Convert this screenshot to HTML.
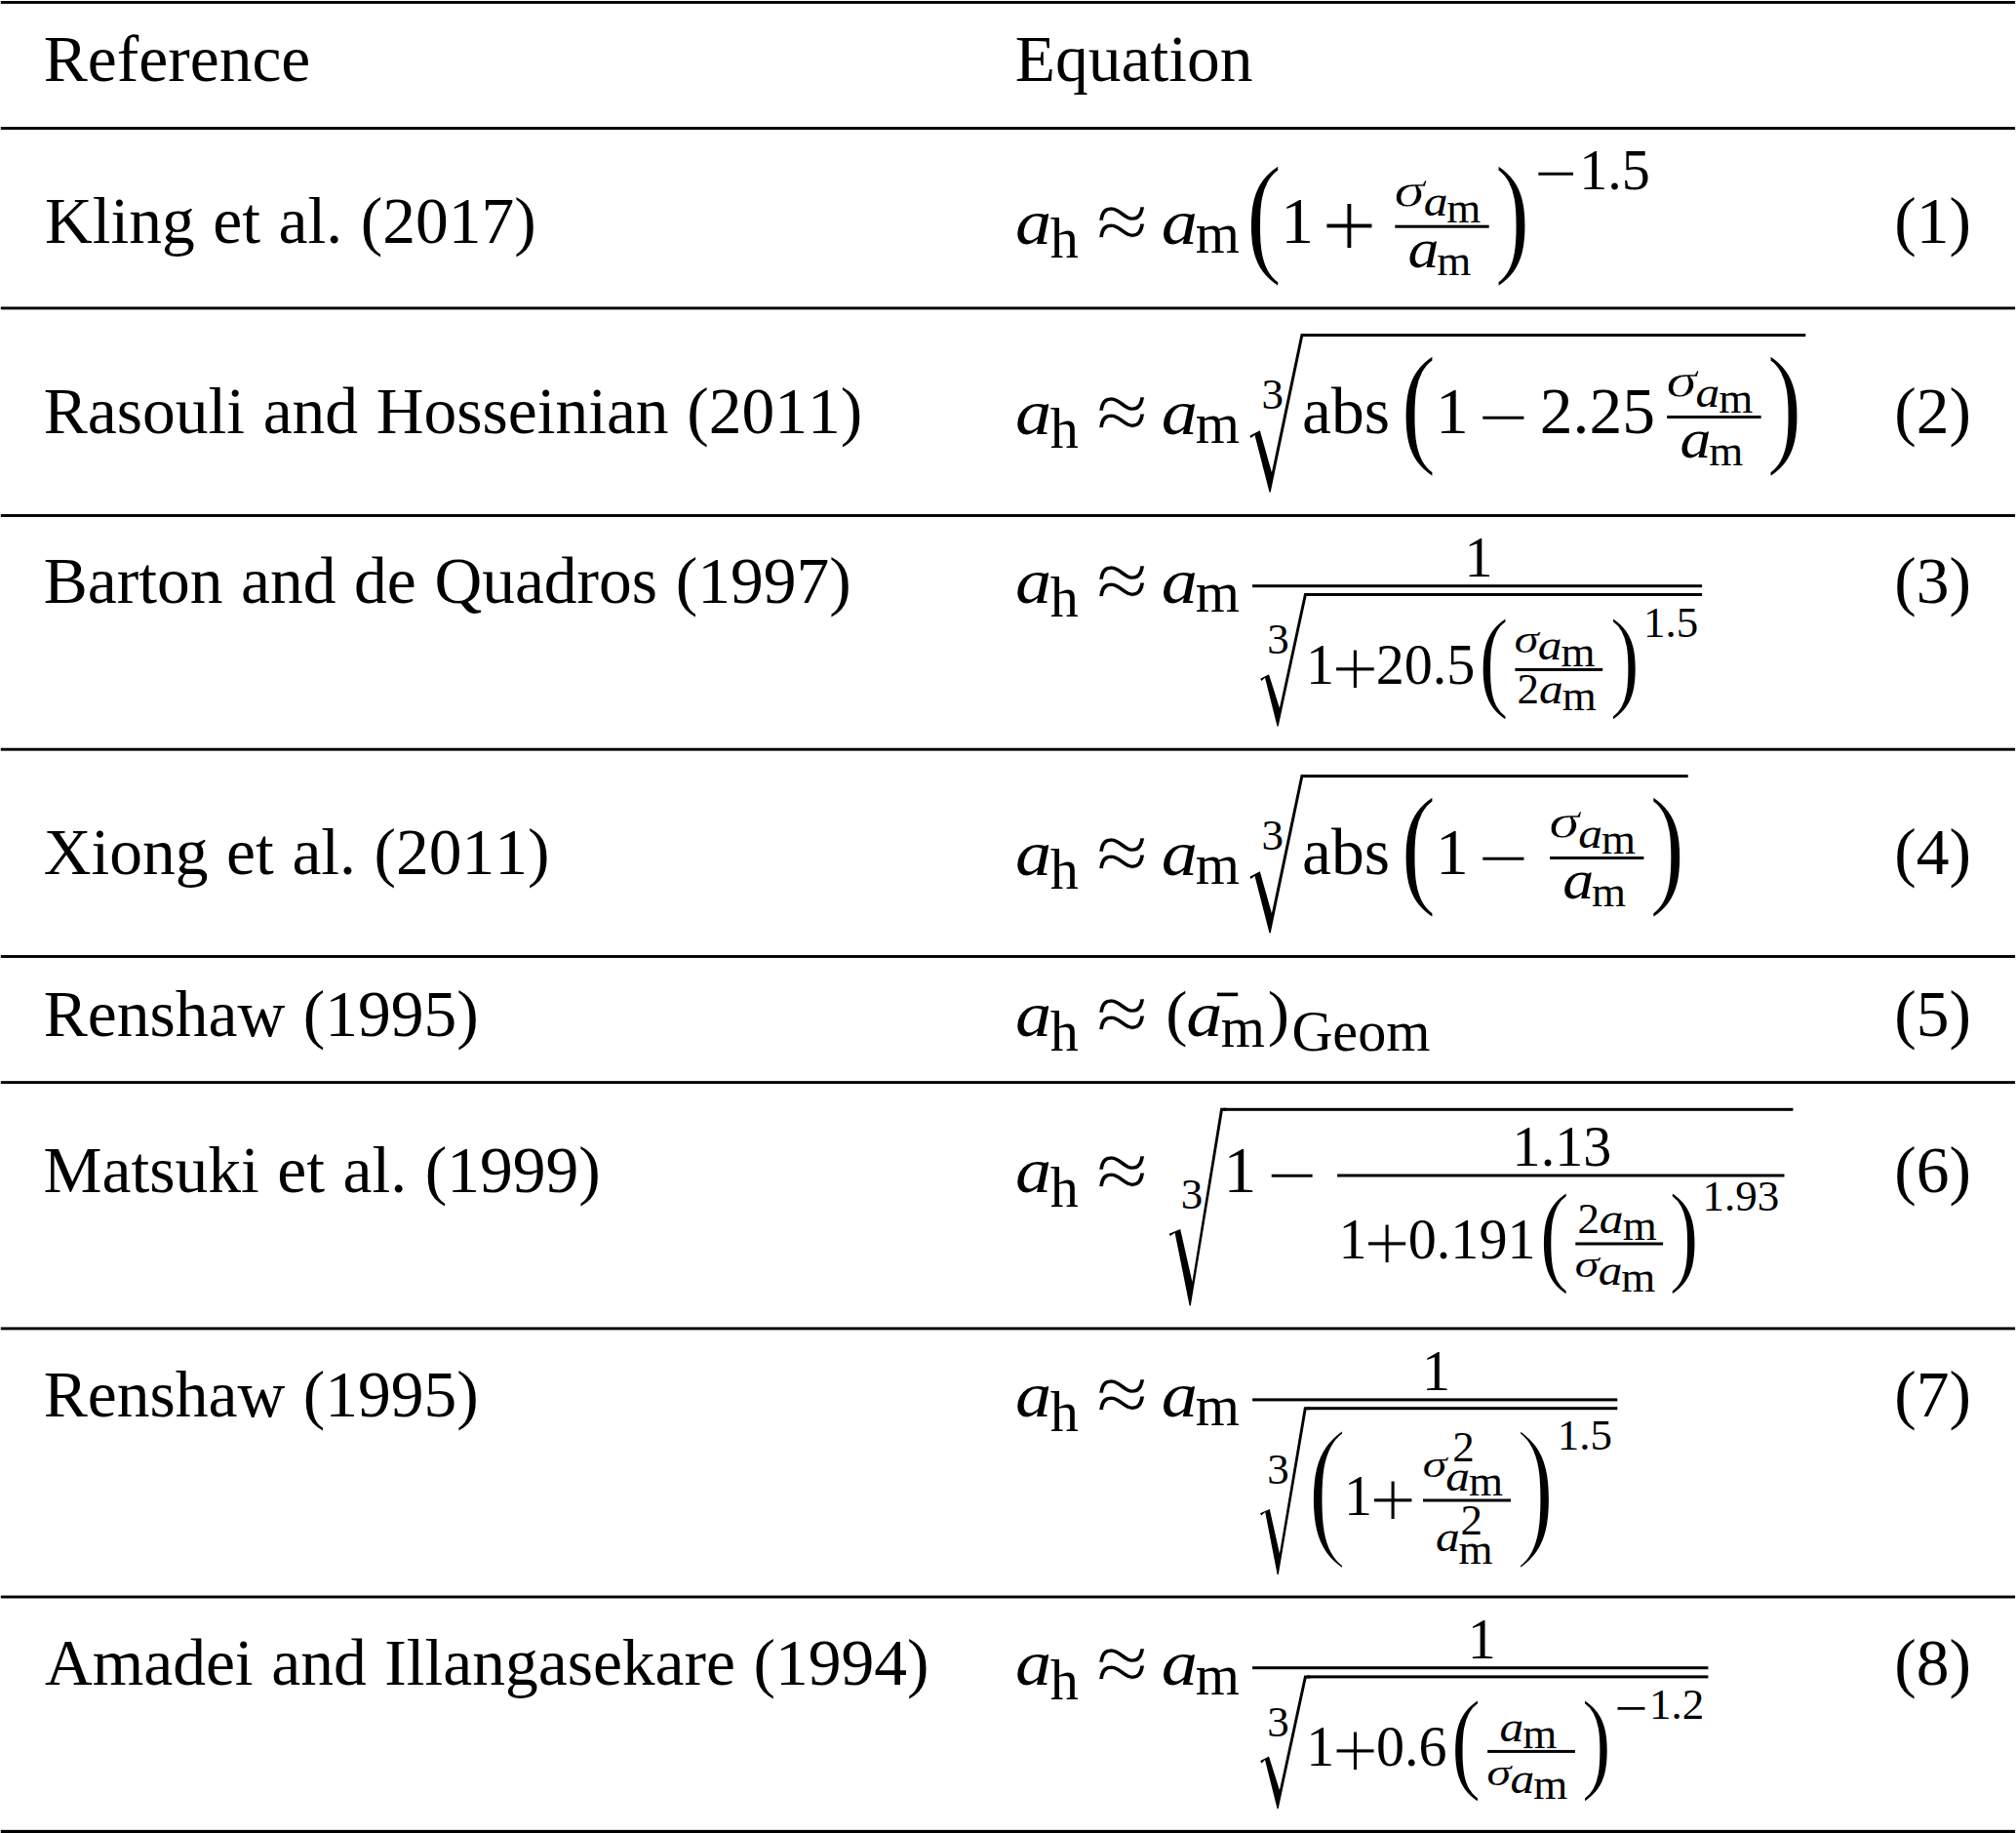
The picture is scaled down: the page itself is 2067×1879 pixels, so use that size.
<!DOCTYPE html>
<html lang="en"><head><meta charset="utf-8"><title>Table</title>
<style>
html,body{margin:0;padding:0;background:#fff;}
body{width:2067px;height:1879px;overflow:hidden;}
svg{display:block;font-family:"Liberation Serif","Times New Roman",Times,serif;fill:#000;}
text{white-space:pre;font-kerning:none;font-variant-ligatures:none;}
.ws{word-spacing:1.7px;}
</style></head><body>
<svg width="2067" height="1879" viewBox="0 0 2067 1879">
<rect x="0" y="0" width="2067" height="1879" fill="#fff"/>
<rect x="0.80" y="1.00" width="2065.30" height="2.90"/>
<rect x="0.80" y="130.05" width="2065.30" height="2.90"/>
<rect x="0.80" y="314.45" width="2065.30" height="2.90"/>
<rect x="0.80" y="527.05" width="2065.30" height="2.90"/>
<rect x="0.80" y="766.75" width="2065.30" height="2.90"/>
<rect x="0.80" y="979.05" width="2065.30" height="2.90"/>
<rect x="0.80" y="1108.15" width="2065.30" height="2.90"/>
<rect x="0.80" y="1360.45" width="2065.30" height="2.90"/>
<rect x="0.80" y="1635.55" width="2065.30" height="2.90"/>
<rect x="0.80" y="1875.85" width="2065.30" height="3.65"/>
<text x="44.80" y="82.90" font-size="67.50" class="ws">Reference</text>
<text x="45.95" y="249.10" font-size="67.50" class="ws">Kling et al. (2017)</text>
<text x="44.80" y="444.40" font-size="67.50" class="ws">Rasouli and Hosseinian (2011)</text>
<text x="44.80" y="617.60" font-size="67.50" class="ws">Barton and de Quadros (1997)</text>
<text x="44.79" y="896.40" font-size="67.50" class="ws">Xiong et al. (2011)</text>
<text x="44.80" y="1061.80" font-size="67.50" class="ws">Renshaw (1995)</text>
<text x="44.47" y="1221.90" font-size="67.50" class="ws">Matsuki et al. (1999)</text>
<text x="44.80" y="1451.80" font-size="67.50" class="ws">Renshaw (1995)</text>
<text x="45.95" y="1726.90" font-size="67.50" class="ws">Amadei and Illangasekare (1994)</text>
<text x="1040.86" y="82.90" font-size="67.50">Equation</text>
<text x="1942.23" y="249.10" font-size="67.50">(1)</text>
<text x="1942.23" y="444.40" font-size="67.50">(2)</text>
<text x="1942.23" y="617.60" font-size="67.50">(3)</text>
<text x="1942.23" y="896.40" font-size="67.50">(4)</text>
<text x="1942.23" y="1061.80" font-size="67.50">(5)</text>
<text x="1942.23" y="1221.90" font-size="67.50">(6)</text>
<text x="1942.23" y="1451.80" font-size="67.50">(7)</text>
<text x="1942.23" y="1726.90" font-size="67.50">(8)</text>
<text transform="matrix(0.7421 0 0 0.6508 1040.89 249.53)" font-size="100" font-style="italic">a</text>
<text x="1076.83" y="263.90" font-size="58.10">h</text>
<text transform="matrix(0.9703 0 0 0.8556 1124.05 255.72)" font-size="100" stroke="#fff" stroke-width="0.988">≈</text>
<text transform="matrix(0.7421 0 0 0.6508 1190.69 249.53)" font-size="100" font-style="italic">a</text>
<text x="1225.78" y="258.70" font-size="58.10">m</text>
<text transform="matrix(1.1213 0 0 1.3852 1277.27 264.91)" font-size="100" stroke="#fff" stroke-width="1.284">(</text>
<text x="1313.37" y="249.10" font-size="67.50">1</text>
<text transform="matrix(1.0165 0 0 0.9939 1354.79 265.20)" font-size="100" stroke="#fff" stroke-width="1.094">+</text>
<rect x="1430.30" y="230.70" width="96.40" height="3.00"/>
<text transform="matrix(0.6342 0 0 0.5025 1429.51 211.76)" font-size="100" font-style="italic" stroke="#fff" stroke-width="1.063">σ</text>
<text transform="matrix(0.4947 0 0 0.4339 1459.63 221.34)" font-size="100" font-style="italic">a</text>
<text x="1483.26" y="227.95" font-size="45.00">m</text>
<text transform="matrix(0.6387 0 0 0.5602 1443.60 273.82)" font-size="100" font-style="italic">a</text>
<text x="1473.36" y="281.85" font-size="45.00">m</text>
<text transform="matrix(1.1058 0 0 1.3852 1532.34 264.91)" font-size="100" stroke="#fff" stroke-width="1.293">)</text>
<text transform="matrix(0.7672 0 0 0.6024 1573.58 198.10)" font-size="100">−</text>
<text x="1619.29" y="193.60" font-size="58.10">1.5</text>
<text transform="matrix(0.7421 0 0 0.6508 1040.89 444.83)" font-size="100" font-style="italic">a</text>
<text x="1076.83" y="459.20" font-size="58.10">h</text>
<text transform="matrix(0.9703 0 0 0.8556 1124.05 451.02)" font-size="100" stroke="#fff" stroke-width="0.988">≈</text>
<text transform="matrix(0.7421 0 0 0.6508 1190.69 444.83)" font-size="100" font-style="italic">a</text>
<text x="1225.78" y="454.00" font-size="58.10">m</text>
<polygon points="1333.70,342.10 1339.70,342.10 1339.70,345.10 1336.07,345.10 1302.70,504.50 1301.50,504.50 1286.50,446.00 1282.60,449.00 1281.30,446.70 1291.80,441.30 1303.90,484.30"/>
<rect x="1336.70" y="342.10" width="514.60" height="3.00"/>
<text x="1293.55" y="418.60" font-size="45.00">3</text>
<text x="1334.93" y="444.40" font-size="67.50">abs</text>
<text transform="matrix(1.1019 0 0 1.3852 1435.96 460.21)" font-size="100" stroke="#fff" stroke-width="1.295">(</text>
<text x="1472.07" y="444.40" font-size="67.50">1</text>
<text transform="matrix(0.9069 0 0 0.6024 1515.68 447.50)" font-size="100">−</text>
<text x="1578.83" y="444.40" font-size="67.50">2.25</text>
<rect x="1709.20" y="426.00" width="96.40" height="3.00"/>
<text transform="matrix(0.6342 0 0 0.5025 1708.41 407.06)" font-size="100" font-style="italic" stroke="#fff" stroke-width="1.063">σ</text>
<text transform="matrix(0.4947 0 0 0.4339 1738.53 416.64)" font-size="100" font-style="italic">a</text>
<text x="1762.16" y="423.25" font-size="45.00">m</text>
<text transform="matrix(0.6387 0 0 0.5602 1722.50 469.12)" font-size="100" font-style="italic">a</text>
<text x="1752.26" y="477.15" font-size="45.00">m</text>
<text transform="matrix(1.1058 0 0 1.3852 1811.24 460.21)" font-size="100" stroke="#fff" stroke-width="1.293">)</text>
<text transform="matrix(0.7421 0 0 0.6508 1040.89 618.03)" font-size="100" font-style="italic">a</text>
<text x="1076.83" y="632.40" font-size="58.10">h</text>
<text transform="matrix(0.9703 0 0 0.8556 1124.05 624.22)" font-size="100" stroke="#fff" stroke-width="0.988">≈</text>
<text transform="matrix(0.7421 0 0 0.6508 1190.69 618.03)" font-size="100" font-style="italic">a</text>
<text x="1225.78" y="627.20" font-size="58.10">m</text>
<rect x="1284.10" y="599.20" width="461.00" height="3.00"/>
<text x="1501.39" y="590.60" font-size="58.10">1</text>
<polygon points="1337.20,608.00 1343.20,608.00 1343.20,611.00 1339.55,611.00 1310.70,744.50 1309.50,744.50 1297.00,694.70 1293.50,698.00 1292.20,695.70 1301.00,691.20 1311.90,725.70"/>
<rect x="1340.20" y="608.00" width="404.90" height="3.00"/>
<text x="1299.25" y="670.30" font-size="45.00">3</text>
<text x="1338.99" y="700.90" font-size="58.10">1</text>
<text transform="matrix(0.8553 0 0 0.8394 1365.29 714.27)" font-size="100" stroke="#fff" stroke-width="1.298">+</text>
<text x="1410.75" y="700.90" font-size="58.10">20.5</text>
<text transform="matrix(0.9461 0 0 1.1723 1515.74 714.04)" font-size="100" stroke="#fff" stroke-width="1.519">(</text>
<rect x="1553.40" y="684.90" width="89.80" height="3.00"/>
<text transform="matrix(0.9422 0 0 1.1723 1650.16 714.04)" font-size="100" stroke="#fff" stroke-width="1.522">)</text>
<text transform="matrix(0.5110 0 0 0.3902 1552.58 668.92)" font-size="100" font-style="italic" stroke="#fff" stroke-width="0.448">σ</text>
<text transform="matrix(0.4947 0 0 0.4339 1576.83 675.89)" font-size="100" font-style="italic">a</text>
<text x="1600.46" y="682.60" font-size="45.00">m</text>
<text x="1555.52" y="720.80" font-size="45.00">2</text>
<text transform="matrix(0.4947 0 0 0.4339 1577.93 721.39)" font-size="100" font-style="italic">a</text>
<text x="1601.86" y="727.80" font-size="45.00">m</text>
<text x="1685.04" y="652.70" font-size="45.00">1.5</text>
<text transform="matrix(0.7421 0 0 0.6508 1040.89 896.83)" font-size="100" font-style="italic">a</text>
<text x="1076.83" y="911.20" font-size="58.10">h</text>
<text transform="matrix(0.9703 0 0 0.8556 1124.05 903.02)" font-size="100" stroke="#fff" stroke-width="0.988">≈</text>
<text transform="matrix(0.7421 0 0 0.6508 1190.69 896.83)" font-size="100" font-style="italic">a</text>
<text x="1225.78" y="906.00" font-size="58.10">m</text>
<polygon points="1333.70,794.10 1339.70,794.10 1339.70,797.10 1336.07,797.10 1302.70,956.50 1301.50,956.50 1286.50,898.00 1282.60,901.00 1281.30,898.70 1291.80,893.30 1303.90,936.30"/>
<rect x="1336.70" y="794.10" width="394.00" height="3.00"/>
<text x="1293.55" y="870.60" font-size="45.00">3</text>
<text x="1334.93" y="896.40" font-size="67.50">abs</text>
<text transform="matrix(1.1019 0 0 1.3852 1435.96 912.21)" font-size="100" stroke="#fff" stroke-width="1.295">(</text>
<text x="1472.07" y="896.40" font-size="67.50">1</text>
<text transform="matrix(0.9069 0 0 0.6024 1515.68 899.50)" font-size="100">−</text>
<rect x="1589.00" y="878.00" width="96.40" height="3.00"/>
<text transform="matrix(0.6342 0 0 0.5025 1588.21 859.06)" font-size="100" font-style="italic" stroke="#fff" stroke-width="1.063">σ</text>
<text transform="matrix(0.4947 0 0 0.4339 1618.33 868.64)" font-size="100" font-style="italic">a</text>
<text x="1641.96" y="875.25" font-size="45.00">m</text>
<text transform="matrix(0.6387 0 0 0.5602 1602.30 921.12)" font-size="100" font-style="italic">a</text>
<text x="1632.06" y="929.15" font-size="45.00">m</text>
<text transform="matrix(1.1058 0 0 1.3852 1691.04 912.21)" font-size="100" stroke="#fff" stroke-width="1.293">)</text>
<text transform="matrix(0.7421 0 0 0.6508 1040.89 1062.23)" font-size="100" font-style="italic">a</text>
<text x="1076.83" y="1076.60" font-size="58.10">h</text>
<text transform="matrix(0.9703 0 0 0.8556 1124.05 1068.42)" font-size="100" stroke="#fff" stroke-width="0.988">≈</text>
<text transform="matrix(0.6657 0 0 0.6350 1195.37 1060.23)" font-size="100">(</text>
<text transform="matrix(0.7421 0 0 0.6508 1216.19 1062.23)" font-size="100" font-style="italic">a</text>
<rect x="1247.90" y="1017.60" width="21.30" height="3.60"/>
<text x="1251.78" y="1072.80" font-size="58.10">m</text>
<text transform="matrix(0.6657 0 0 0.6350 1299.75 1060.23)" font-size="100">)</text>
<text x="1324.42" y="1077.00" font-size="58.10">Geom</text>
<text transform="matrix(0.7421 0 0 0.6508 1040.89 1222.33)" font-size="100" font-style="italic">a</text>
<text x="1076.83" y="1236.70" font-size="58.10">h</text>
<text transform="matrix(0.9703 0 0 0.8556 1124.05 1228.52)" font-size="100" stroke="#fff" stroke-width="0.988">≈</text>
<polygon points="1251.30,1135.80 1257.30,1135.80 1257.30,1138.80 1253.80,1138.80 1220.80,1338.60 1219.60,1338.60 1204.60,1263.70 1199.90,1267.00 1198.60,1264.70 1210.20,1260.00 1222.40,1314.00"/>
<rect x="1254.30" y="1135.80" width="584.10" height="3.00"/>
<text x="1210.85" y="1239.00" font-size="45.00">3</text>
<text x="1254.47" y="1221.90" font-size="67.50">1</text>
<text transform="matrix(0.9004 0 0 0.6024 1299.32 1225.00)" font-size="100">−</text>
<rect x="1371.10" y="1203.50" width="458.40" height="3.00"/>
<text x="1550.59" y="1194.90" font-size="58.10">1.13</text>
<text x="1372.39" y="1289.50" font-size="58.10">1</text>
<text transform="matrix(0.8467 0 0 0.8394 1398.13 1302.87)" font-size="100" stroke="#fff" stroke-width="1.305">+</text>
<text x="1443.79" y="1289.50" font-size="58.10">0.191</text>
<text transform="matrix(0.9461 0 0 1.1723 1578.04 1302.64)" font-size="100" stroke="#fff" stroke-width="1.519">(</text>
<rect x="1615.30" y="1273.50" width="89.80" height="3.00"/>
<text transform="matrix(0.9422 0 0 1.1723 1711.06 1302.64)" font-size="100" stroke="#fff" stroke-width="1.522">)</text>
<text x="1617.42" y="1264.00" font-size="45.00">2</text>
<text transform="matrix(0.4947 0 0 0.4339 1639.83 1264.49)" font-size="100" font-style="italic">a</text>
<text x="1663.76" y="1271.40" font-size="45.00">m</text>
<text transform="matrix(0.5110 0 0 0.3845 1614.48 1309.32)" font-size="100" font-style="italic" stroke="#fff" stroke-width="0.451">σ</text>
<text transform="matrix(0.4947 0 0 0.4339 1638.73 1317.49)" font-size="100" font-style="italic">a</text>
<text x="1662.36" y="1323.90" font-size="45.00">m</text>
<text x="1745.44" y="1241.30" font-size="45.00">1.93</text>
<text transform="matrix(0.7421 0 0 0.6508 1040.89 1452.23)" font-size="100" font-style="italic">a</text>
<text x="1076.83" y="1466.60" font-size="58.10">h</text>
<text transform="matrix(0.9703 0 0 0.8556 1124.05 1458.42)" font-size="100" stroke="#fff" stroke-width="0.988">≈</text>
<text transform="matrix(0.7421 0 0 0.6508 1190.69 1452.23)" font-size="100" font-style="italic">a</text>
<text x="1225.78" y="1461.40" font-size="58.10">m</text>
<rect x="1284.10" y="1433.40" width="374.20" height="3.00"/>
<text x="1457.89" y="1424.80" font-size="58.10">1</text>
<polygon points="1337.00,1442.20 1343.00,1442.20 1343.00,1445.20 1339.49,1445.20 1310.80,1613.90 1309.60,1613.90 1297.20,1550.00 1293.30,1553.50 1292.00,1551.20 1301.80,1547.00 1311.90,1592.60"/>
<rect x="1340.00" y="1442.20" width="318.30" height="3.00"/>
<text x="1299.15" y="1521.30" font-size="45.00">3</text>
<text transform="matrix(1.2576 0 0 1.6058 1339.67 1576.41)" font-size="100" stroke="#fff" stroke-width="2.533">(</text>
<text x="1377.99" y="1552.50" font-size="58.10">1</text>
<text transform="matrix(0.8553 0 0 0.8480 1403.89 1566.16)" font-size="100" stroke="#fff" stroke-width="1.292">+</text>
<rect x="1459.00" y="1536.50" width="90.00" height="3.00"/>
<text transform="matrix(0.5090 0 0 0.3864 1458.38 1514.22)" font-size="100" font-style="italic" stroke="#fff" stroke-width="0.451">σ</text>
<text x="1489.32" y="1498.20" font-size="45.00">2</text>
<text transform="matrix(0.4947 0 0 0.4339 1482.33 1527.69)" font-size="100" font-style="italic">a</text>
<text x="1505.96" y="1533.10" font-size="45.00">m</text>
<text transform="matrix(0.4947 0 0 0.4339 1471.93 1590.09)" font-size="100" font-style="italic">a</text>
<text x="1497.52" y="1572.60" font-size="45.00">2</text>
<text x="1495.56" y="1602.60" font-size="45.00">m</text>
<text transform="matrix(1.2459 0 0 1.6058 1553.38 1576.41)" font-size="100" stroke="#fff" stroke-width="2.545">)</text>
<text x="1596.74" y="1485.50" font-size="45.00">1.5</text>
<text transform="matrix(0.7421 0 0 0.6508 1040.89 1727.33)" font-size="100" font-style="italic">a</text>
<text x="1076.83" y="1741.70" font-size="58.10">h</text>
<text transform="matrix(0.9703 0 0 0.8556 1124.05 1733.52)" font-size="100" stroke="#fff" stroke-width="0.988">≈</text>
<text transform="matrix(0.7421 0 0 0.6508 1190.69 1727.33)" font-size="100" font-style="italic">a</text>
<text x="1225.78" y="1736.50" font-size="58.10">m</text>
<rect x="1284.10" y="1708.20" width="467.30" height="3.00"/>
<text x="1504.79" y="1699.90" font-size="58.10">1</text>
<polygon points="1337.20,1717.40 1343.20,1717.40 1343.20,1720.40 1339.55,1720.40 1310.70,1853.90 1309.50,1853.90 1297.00,1804.10 1293.50,1807.40 1292.20,1805.10 1301.00,1800.60 1311.90,1835.10"/>
<rect x="1340.20" y="1717.40" width="411.20" height="3.00"/>
<text x="1299.25" y="1779.70" font-size="45.00">3</text>
<text x="1339.19" y="1809.90" font-size="58.10">1</text>
<text transform="matrix(0.8424 0 0 0.8394 1365.75 1823.27)" font-size="100" stroke="#fff" stroke-width="1.308">+</text>
<text x="1410.99" y="1809.90" font-size="58.10">0.6</text>
<text transform="matrix(0.9461 0 0 1.1723 1487.24 1823.04)" font-size="100" stroke="#fff" stroke-width="1.519">(</text>
<rect x="1525.10" y="1793.90" width="89.80" height="3.00"/>
<text transform="matrix(0.9422 0 0 1.1723 1621.26 1823.04)" font-size="100" stroke="#fff" stroke-width="1.522">)</text>
<text transform="matrix(0.4947 0 0 0.4339 1537.53 1785.19)" font-size="100" font-style="italic">a</text>
<text x="1561.26" y="1791.60" font-size="45.00">m</text>
<text transform="matrix(0.5110 0 0 0.3845 1524.28 1829.72)" font-size="100" font-style="italic" stroke="#fff" stroke-width="0.451">σ</text>
<text transform="matrix(0.4947 0 0 0.4339 1548.53 1837.89)" font-size="100" font-style="italic">a</text>
<text x="1572.16" y="1844.30" font-size="45.00">m</text>
<text transform="matrix(0.6017 0 0 0.5622 1655.50 1769.87)" font-size="100">−</text>
<text x="1691.04" y="1761.70" font-size="45.00">1.2</text>
</svg>
</body></html>
